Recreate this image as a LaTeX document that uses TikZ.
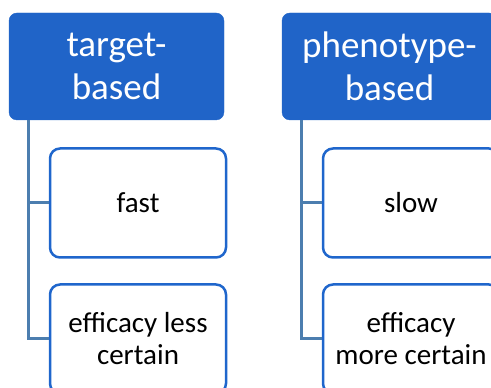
\documentclass[tikz,border=0pt]{standalone}
\usepackage{fontspec}
\setmainfont{Carlito}
\usetikzlibrary{calc}
\definecolor{hdrblue}{HTML}{2064C8}
\definecolor{boxblue}{HTML}{1F66CC}
\definecolor{connblue}{HTML}{4C7EAF}
\tikzset{
  hdr/.style={draw=hdrblue, fill=hdrblue, rounded corners=8pt, minimum width=215pt, minimum height=107pt,
    text=white, align=center, inner sep=0pt, font=\fontsize{37}{43}\selectfont},
  child/.style={draw=boxblue, line width=2.5pt, fill=white, rounded corners=10pt, minimum width=176pt, minimum height=109pt,
    text=black, align=center, inner sep=0pt, font=\fontsize{29}{32}\selectfont},
  conn/.style={draw=connblue, line width=3pt}
}
\begin{document}
\begin{tikzpicture}[x=1pt,y=1pt]
\useasboundingbox (0,0) rectangle (491,388);
\clip (0,0) rectangle (491,388);
% left column
\node[hdr] (hl) at (116.5,321.5) {target-\\based};
\node[child] (l1) at (138,185) {fast};
\node[child] (l2) at (138,49) {efficacy less\\certain};
\coordinate (lt) at ($(hl.south west)+(20,0)$);
\draw[conn] (lt) |- (l1.west);
\draw[conn] (lt) |- (l2.west);
% right column
\node[hdr] (hr) at (389.5,321.5) {phenotype-\\based};
\node[child] (r1) at (411,185) {slow};
\node[child] (r2) at (411,49) {efficacy\\more certain};
\coordinate (rt) at ($(hr.south west)+(20,0)$);
\draw[conn] (rt) |- (r1.west);
\draw[conn] (rt) |- (r2.west);
\end{tikzpicture}
\end{document}
